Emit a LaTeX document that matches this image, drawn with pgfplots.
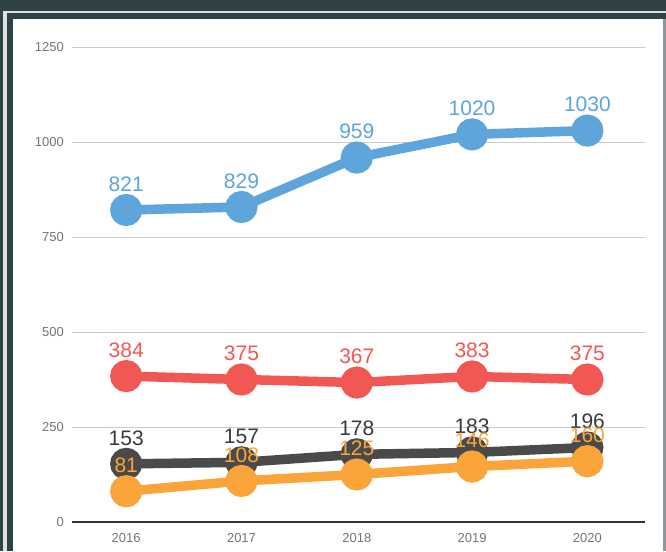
\documentclass[border=0pt]{standalone}
\usepackage{fontspec}
\setmainfont{Liberation Sans}
\usepackage{pgfplots}
\pgfplotsset{compat=1.18}
\definecolor{frame}{HTML}{2F4346}
\definecolor{framelight}{HTML}{DCE2E2}
\definecolor{framegray}{HTML}{8A9898}
\definecolor{blueL}{HTML}{5DA5DA}
\definecolor{redL}{HTML}{F15854}
\definecolor{darkL}{HTML}{4A4A4A}
\definecolor{darkT}{HTML}{3A3A3A}
\definecolor{orangeL}{HTML}{FAA43A}
\definecolor{gridgray}{HTML}{CCCCCC}
\definecolor{tickgray}{HTML}{757575}
\begin{document}
\begin{tikzpicture}[x=1pt,y=1pt]
\useasboundingbox (0,0) rectangle (666,551);
\fill[frame] (0,0) rectangle (666,551);
\fill[framelight] (3,0) rectangle (666,540);
\fill[frame] (7,0) rectangle (666,538);
\fill[framegray] (13,0) rectangle (666,532);
\fill[white] (13,0) rectangle (663,532);
\begin{axis}[at={(72pt,29pt)}, anchor=south west, scale only axis,
  width=573pt, height=475pt,
  xmin=-0.47, xmax=4.5, ymin=0, ymax=1250,
  axis x line*=bottom, axis y line*=left,
  y axis line style={draw=none},
  x axis line style={draw=black!80, line width=1.2pt},
  xtick={0,1,2,3,4}, xticklabels={2016,2017,2018,2019,2020},
  ytick={0,250,500,750,1000,1250},
  major tick length=0pt,
  ymajorgrids, grid style={draw=gridgray, line width=0.9pt},
  tick label style={font=\fontsize{13}{13}\selectfont, text=tickgray},
  xticklabel style={anchor=center, inner sep=0pt, yshift=-16pt},
  yticklabel style={anchor=east, inner sep=0pt, xshift=-8pt},
  /pgf/number format/assume math mode=true,
  /pgf/number format/set thousands separator={},
  clip=false]
\addplot[color=blueL, line width=9.5pt, mark=*, mark size=11.3pt, mark options={solid}] coordinates {(0,821)(1,829)(2,959)(3,1020)(4,1030)};
\addplot[color=redL, line width=9.5pt, mark=*, mark size=11.3pt, mark options={solid}] coordinates {(0,384)(1,375)(2,367)(3,383)(4,375)};
\addplot[color=darkL, line width=9.5pt, mark=*, mark size=11.3pt, mark options={solid}] coordinates {(0,153)(1,157)(2,178)(3,183)(4,196)};
\addplot[color=orangeL, line width=9.5pt, mark=*, mark size=11.3pt, mark options={solid}] coordinates {(0,81)(1,108)(2,125)(3,146)(4,160)};
\addplot[draw=none, mark=none, nodes near coords, every node near coord/.append style={anchor=center, yshift=26pt, text=blueL, font=\fontsize{21}{21}\selectfont}] coordinates {(0,821)(1,829)(2,959)(3,1020)(4,1030)};
\addplot[draw=none, mark=none, nodes near coords, every node near coord/.append style={anchor=center, yshift=26pt, text=redL, font=\fontsize{21}{21}\selectfont}] coordinates {(0,384)(1,375)(2,367)(3,383)(4,375)};
\addplot[draw=none, mark=none, nodes near coords, every node near coord/.append style={anchor=center, yshift=26pt, text=darkT, font=\fontsize{21}{21}\selectfont}] coordinates {(0,153)(1,157)(2,178)(3,183)(4,196)};
\addplot[draw=none, mark=none, nodes near coords, every node near coord/.append style={anchor=center, yshift=26pt, text=orangeL, font=\fontsize{21}{21}\selectfont}] coordinates {(0,81)(1,108)(2,125)(3,146)(4,160)};
\end{axis}
\end{tikzpicture}
\end{document}
